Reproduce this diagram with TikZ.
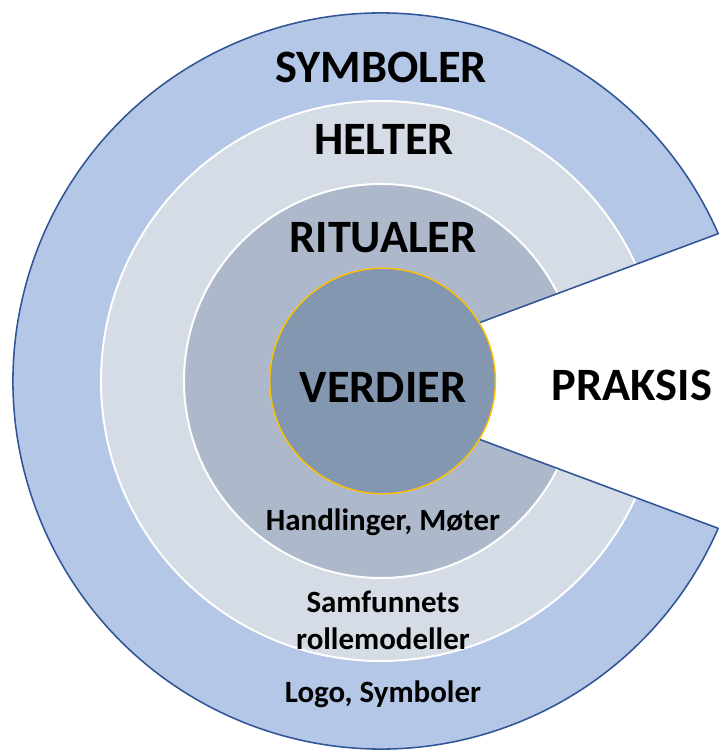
\documentclass[tikz,border=0pt]{standalone}
\usepackage{fontspec}
\setmainfont{Carlito}
\definecolor{symbolblue}{HTML}{B4C7E7}
\definecolor{edgeblue}{HTML}{2F5597}
\definecolor{heltergray}{HTML}{D6DCE5}
\definecolor{ritualgray}{HTML}{ADB9CA}
\definecolor{verdigray}{HTML}{8497B0}
\definecolor{verdigold}{HTML}{FFC000}
\begin{document}
\begin{tikzpicture}[
x=1mm, y=1mm,
big/.style={font=\fontsize{33}{36}\selectfont\bfseries, anchor=base, inner sep=0pt},
small/.style={font=\fontsize{22}{26}\selectfont\bfseries, anchor=base, inner sep=0pt, align=center},
ring/.style={draw=white, line width=1.4pt}
]
\useasboundingbox (-95.25,-92.5) rectangle (84.5,95.25);
% outer ring, cut open towards the right
\fill[symbolblue] (-14.5,0) -- (23.6:92) arc[start angle=23.6, end angle=336.4, radius=92] -- cycle;
\begin{scope}
\clip (-14.5,0) -- (23.6:92) arc[start angle=23.6, end angle=336.4, radius=92] -- cycle;
\filldraw[fill=heltergray, ring] (0,0) circle (70);
\filldraw[fill=ritualgray, ring] (0,0) circle (49.25);
\end{scope}
\draw[edgeblue, line width=1.1pt, line join=round] (-14.5,0) -- (23.6:92) arc[start angle=23.6, end angle=336.4, radius=92] -- cycle;
\filldraw[fill=verdigray, draw=verdigold, line width=1pt] (0.4,0) circle (28.2);

\node[big] (symboler) at (0,74.5) {SYMBOLER};
\node[big] (helter) at (0.75,56.5) {HELTER};
\node[big] (ritualer) at (0.5,32) {RITUALER};
\node[big] (verdier) at (0.5,-5.5) {VERDIER};
\node[big] (praksis) at (62.75,-5) {PRAKSIS};
\node[small] (handlinger) at (0.5,-37.25) {Handlinger, Møter};
\node[small] (rollemodeller) at (0.5,-67) {Samfunnets\\rollemodeller};
\node[small] (logo) at (0.5,-80.25) {Logo, Symboler};
\end{tikzpicture}
\end{document}
